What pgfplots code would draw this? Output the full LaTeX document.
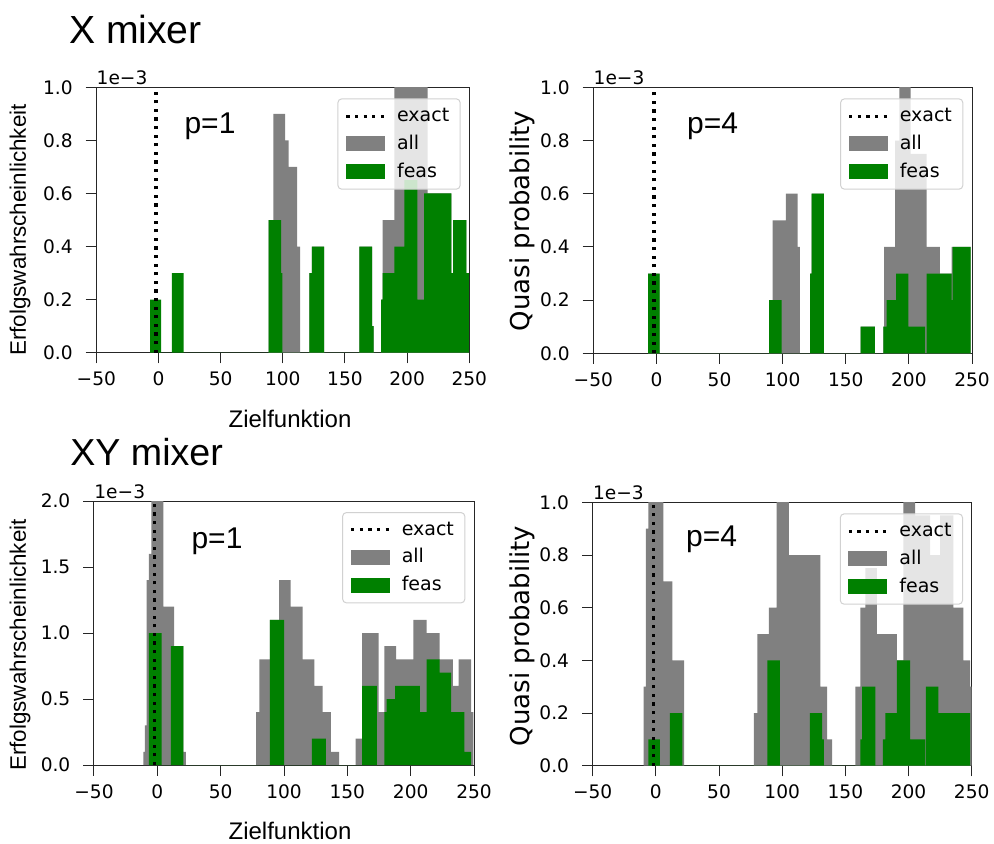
\documentclass[border=0pt]{standalone}
\usepackage{pgfplots}
\pgfplotsset{compat=1.18}
\usepackage{fontspec}
\setmainfont{DejaVu Sans}
\newfontfamily\arial{Liberation Sans}
\definecolor{mplgreen}{HTML}{008000}
\definecolor{mplgray}{HTML}{808080}
\pgfplotsset{
  panel/.style={
    scale only axis,
    xmin=-50, xmax=250, ymin=0,
    xtick={-50,0,50,100,150,200,250},
    xticklabels={−50,0,50,100,150,200,250},
    tick align=outside, xtick pos=bottom, ytick pos=left,
    major tick length=5.3pt,
    tick style={black!85, line width=0.5pt},
    axis line style={black!85, line width=0.5pt},
    ticklabel style={font=\fontsize{9.3}{11}\selectfont},
    xticklabel style={yshift=-0.8pt},
    yticklabel style={xshift=-3pt},
    /pgf/number format/assume math mode=true,
    legend cell align=left,
    legend style={at={(rel axis cs:1,1)}, anchor=north east, xshift=-4.3pt, yshift=-5.5pt,
      draw=black!18, line width=0.5pt, fill=white, fill opacity=0.8, text opacity=1,
      rounded corners=2pt, font=\fontsize{9.5}{11}\selectfont,
      inner xsep=3.5pt, inner ysep=2.6pt, row sep=1.2pt,
      /tikz/every odd column/.append style={column sep=3.5pt}},
  },
  grayarea/.style={fill=mplgray, draw=none, const plot mark left, forget plot},
  greenarea/.style={fill=mplgreen, draw=none, const plot mark left, forget plot},
  exactline/.style={black, line width=1.6pt, dash pattern=on 1.6pt off 2.7pt, forget plot},
}
\newcommand{\mylegend}{%
  \addlegendimage{legend image code/.code={\draw[black, sharp corners, line width=1.6pt, dash pattern=on 1.6pt off 2.7pt, draw opacity=1] (0pt,0pt) -- (19pt,0pt);}}
  \addlegendentry{exact}
  \addlegendimage{legend image code/.code={\fill[mplgray, sharp corners, fill opacity=1] (0pt,-3.5pt) rectangle (19pt,3.5pt);}}
  \addlegendentry{all}
  \addlegendimage{legend image code/.code={\fill[mplgreen, sharp corners, fill opacity=1] (0pt,-3.5pt) rectangle (19pt,3.5pt);}}
  \addlegendentry{feas}
}
\begin{document}
\begin{tikzpicture}
\useasboundingbox (0,0) rectangle (497pt,-421.5pt);

% ---------------- X mixer, p=1 ----------------
\begin{axis}[panel, name=tl, at={(48.15pt,-176.35pt)}, anchor=south west,
  width=186.5pt, height=132.7pt, ymax=1,
  ytick={0,0.2,0.4,0.6,0.8,1}, yticklabels={0.0,0.2,0.4,0.6,0.8,1.0}]
\mylegend
\addplot[grayarea] coordinates {(88.5,0) (88.5,0.5) (92.5,0.9) (101.9,0.8) (104.6,0.7) (111.5,0.4) (113.9,0)
  (121.4,0.3) (123.3,0.4) (133.2,0) (161.5,0.4) (171.8,0.1) (173,0)
  (179,0.2) (180.3,0.5) (189.7,1.2) (216.4,0.6) (224,0.6) (235.5,0.3) (236.9,0.5) (247.7,0.3) (249.6,0)};
\addplot[greenarea] coordinates {(-6.7,0) (-6.7,0.2) (2.2,0) (10.8,0.3) (20.2,0)
  (88.5,0.5) (98.7,0.3) (99.7,0) (121.4,0.3) (123.3,0.4) (133.2,0) (161.5,0.4) (171.8,0.1) (173,0)
  (179,0.2) (180.3,0.3) (189.7,0.4) (197.8,0.65) (208.3,0.2) (213.7,0.6) (235.5,0.3) (236.9,0.5) (247.7,0.3) (249.6,0)};
\addplot[exactline] coordinates {(-2,0) (-2,1)};
\end{axis}

% ---------------- X mixer, p=4 ----------------
\begin{axis}[panel, name=tr, at={(296.65pt,-176.65pt)}, anchor=south west,
  width=189.35pt, height=133pt, ymax=1,
  ytick={0,0.2,0.4,0.6,0.8,1}, yticklabels={0.0,0.2,0.4,0.6,0.8,1.0}]
\mylegend
\addplot[grayarea] coordinates {(-6.6,0) (-6.6,0.3) (2.6,0)
  (89.2,0.2) (92.1,0.5) (102.6,0.6) (111.9,0.4) (113.7,0) (121.7,0.3) (123,0.6) (132.7,0)
  (161.8,0.1) (173.1,0) (179.7,0.1) (180.3,0.4) (189,0.8) (192.4,1.2) (201.4,0.75) (214.1,0.4) (224.6,0.3) (233.9,0.4) (248.9,0)};
\addplot[greenarea] coordinates {(-6.6,0) (-6.6,0.3) (2.6,0)
  (89.2,0.2) (99.2,0) (121.7,0.3) (123,0.6) (132.7,0) (161.8,0.1) (173.1,0)
  (179.7,0.1) (182.4,0.2) (189.8,0.3) (199.6,0.1) (212.8,0) (214.1,0.3) (233.9,0.2) (234.7,0.4) (248.9,0)};
\addplot[exactline] coordinates {(-2,0) (-2,1)};
\end{axis}

% ---------------- XY mixer, p=1 ----------------
\begin{axis}[panel, name=bl, at={(47pt,-382.5pt)}, anchor=south west,
  width=190pt, height=132pt, ymax=2,
  ytick={0,0.5,1,1.5,2}, yticklabels={0.0,0.5,1.0,1.5,2.0}]
\mylegend
\addplot[grayarea] coordinates {(-11.1,0) (-11.1,0.1) (-9.8,0.3) (-8.5,1.4) (-6.6,1.6) (-4.8,2.5) (4.8,1.2) (13.2,0.9) (20.6,0.1) (22.5,0)
  (78,0.4) (80.6,0.8) (88.8,1.1) (96.1,1.4) (105.2,1.2) (114.8,0.8) (124,0.6) (130.5,0.4) (137,0.1) (143.5,0)
  (156.5,0.2) (161.7,1.0) (174.7,0.4) (179.2,0.9) (188.5,0.8) (202.1,1.1) (212.5,1.0) (222.9,0.8) (233.3,0.6) (237.8,0.8) (247.7,0.4) (249.5,0)};
\addplot[greenarea] coordinates {(-6.6,0) (-6.6,1.0) (3.4,0) (10.6,0.9) (20.6,0)
  (88.8,1.1) (100,0) (122.1,0.2) (133.1,0) (161.7,0.6) (173.4,0)
  (179.2,0.4) (181,0.5) (187.8,0.6) (207.3,0.4) (212.5,0.8) (222.9,0.7) (232,0.4) (242.4,0.1) (247.7,0)};
\addplot[exactline] coordinates {(-2,0) (-2,2)};
\end{axis}

% ---------------- XY mixer, p=4 ----------------
\begin{axis}[panel, name=br, at={(296.35pt,-382.85pt)}, anchor=south west,
  width=189.5pt, height=131.7pt, ymax=1,
  ytick={0,0.2,0.4,0.6,0.8,1}, yticklabels={0.0,0.2,0.4,0.6,0.8,1.0}]
\mylegend
\addplot[grayarea] coordinates {(-9.7,0) (-9.7,0.3) (-7.9,0.9) (-6.0,1.2) (6.0,0.7) (13.1,0.4) (22.3,0)
  (77.6,0.2) (80.3,0.5) (89.5,0.6) (95.5,1.2) (105.3,0.8) (130.3,0.3) (135.5,0.1) (139.5,0)
  (157.9,0.3) (161.8,0.6) (165.8,0.75) (175,0.5) (190.8,0.4) (196,1.2) (205.3,0.95) (217.1,0.8) (225,0.95) (235.5,0.6) (243.4,0.4) (248.7,0.3) (250,0)};
\addplot[greenarea] coordinates {(-6.0,0) (-6.0,0.1) (3.1,0) (11.0,0.2) (20.9,0)
  (88.2,0.4) (98.2,0) (121.8,0.2) (131.6,0.1) (132.9,0)
  (161.8,0.1) (163.2,0.3) (173.7,0) (179.7,0.1) (181.6,0.2) (190.8,0.4) (201.3,0.1) (213.2,0) (213.7,0.3) (223.7,0.2) (248.7,0)};
\addplot[exactline] coordinates {(-2,0) (-2,1)};
\end{axis}

% ---------------- texts ----------------
\foreach \n in {tl,tr,bl,br}{
  \node[anchor=base west, inner sep=0pt, font=\fontsize{9.3}{11}\selectfont, yshift=1.2pt] at (\n.north west) {1e−3};
}
\node[anchor=base west, inner sep=0pt, font=\arial\fontsize{19.6}{22}\selectfont] at (34.3pt,-21.7pt) {X mixer};
\node[anchor=base west, inner sep=0pt, font=\arial\fontsize{18.8}{22}\selectfont] at (35pt,-232.5pt) {XY mixer};
\node[anchor=base, inner sep=0pt, font=\arial\fontsize{15}{18}\selectfont] at (105pt,-66.7pt) {p=1};
\node[anchor=base, inner sep=0pt, font=\arial\fontsize{15}{18}\selectfont] at (356.3pt,-66.7pt) {p=4};
\node[anchor=base, inner sep=0pt, font=\arial\fontsize{15}{18}\selectfont] at (108.5pt,-274.2pt) {p=1};
\node[anchor=base, inner sep=0pt, font=\arial\fontsize{15}{18}\selectfont] at (355.8pt,-273.3pt) {p=4};
\node[anchor=base, inner sep=0pt, font=\arial\fontsize{12}{14}\selectfont] at (145pt,-213.5pt) {Zielfunktion};
\node[anchor=base, inner sep=0pt, font=\arial\fontsize{12}{14}\selectfont] at (145pt,-419.5pt) {Zielfunktion};
\node[rotate=90, inner sep=0pt, font=\arial\fontsize{11.2}{13}\selectfont] at (10pt,-115pt) {Erfolgswahrscheinlichkeit};
\node[rotate=90, inner sep=0pt, font=\arial\fontsize{11.2}{13}\selectfont] at (10pt,-322.5pt) {Erfolgswahrscheinlichkeit};
\node[rotate=90, inner sep=0pt, font=\fontsize{13}{15}\selectfont] at (261.3pt,-110.5pt) {Quasi probability};
\node[rotate=90, inner sep=0pt, font=\fontsize{13}{15}\selectfont] at (261.3pt,-318pt) {Quasi probability};
\end{tikzpicture}
\end{document}
